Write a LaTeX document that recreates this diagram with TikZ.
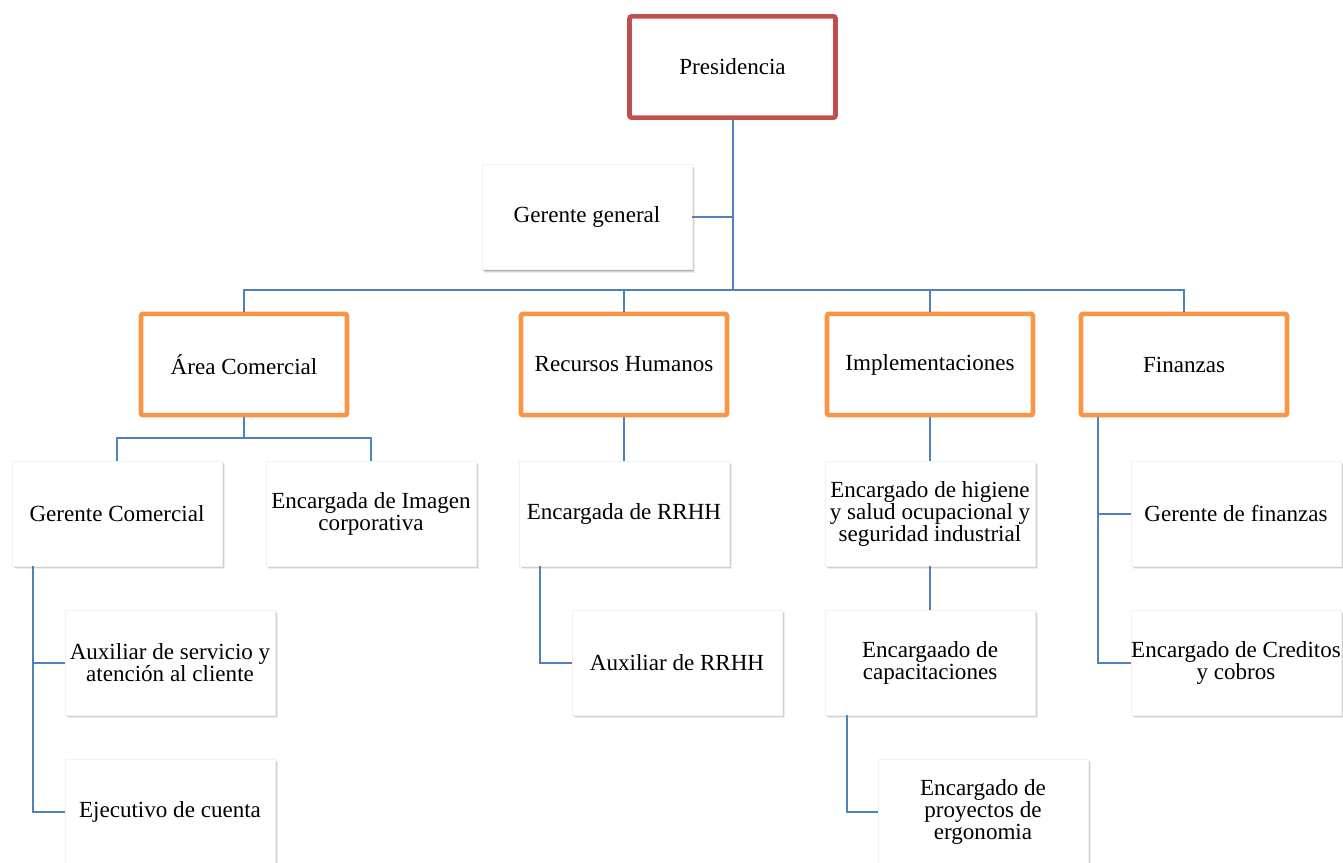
\documentclass[tikz,border=0pt]{standalone}
\usepackage{fontspec}
\setmainfont{Liberation Serif}
\usepackage{tikz}
\usetikzlibrary{calc,shadows}
\definecolor{presred}{HTML}{C0504D}
\definecolor{deptorange}{HTML}{F79646}
\definecolor{linkblue}{HTML}{4F81BD}
\begin{document}
\begin{tikzpicture}[
  x=0.75pt,
  y=-0.75pt,
  every node/.style={font=\fontsize{17.3}{16.5}\selectfont, align=center, text=black},
  chief/.style={draw=presred, line width=3.4pt, rounded corners=1.5pt, fill=white,
    minimum width=154.5pt, minimum height=76pt, inner sep=0pt},
  dept/.style={draw=deptorange, line width=3.4pt, rounded corners=1.5pt, fill=white,
    minimum width=154.5pt, minimum height=76pt, inner sep=0pt},
  post/.style={fill=white, draw=black!5, line width=0.4pt, minimum width=157.5pt,
    minimum height=78.75pt, inner sep=0pt,
    drop shadow={shadow xshift=2pt, shadow yshift=-2.5pt, fill=black, opacity=.07},
    drop shadow={shadow xshift=1.2pt, shadow yshift=-1.6pt, fill=black, opacity=.12},
    drop shadow={shadow xshift=0.5pt, shadow yshift=-0.8pt, fill=black, opacity=.15}},
  link/.style={draw=linkblue, line width=1.5pt}
]
\useasboundingbox (0,0) rectangle (1343,863);

% top
\node[chief] (pres) at (732.5,67) {Presidencia};
\node[post] (gg) at (587,217) {Gerente general};

% areas
\node[dept] (area) at (244,364.5) {Área Comercial};
\node[dept] (rh) at (624,364.5) {Recursos Humanos};
\node[dept] (impl) at (930,364.5) {Implementaciones};
\node[dept] (fin) at (1184,364.5) {Finanzas};

% area comercial
\node[post] (gc) at (117,513.5) {Gerente Comercial};
\node[post] (eic) at (371,513.5) {Encargada de Imagen\\corporativa};
\node[post] (aux) at (170,662.5) {Auxiliar de servicio y\\atención al cliente};
\node[post] (ejec) at (170,811.5) {Ejecutivo de cuenta};

% recursos humanos
\node[post] (erh) at (624,513.5) {Encargada de RRHH};
\node[post] (arh) at (677,662.5) {Auxiliar de RRHH};

% implementaciones
\node[post] (ehs) at (930,513.5) {Encargado de higiene\\y salud ocupacional y\\seguridad industrial};
\node[post] (ecap) at (930,662.5) {Encargaado de\\capacitaciones};
\node[post] (epe) at (983,811.5) {Encargado de\\proyectos de\\ergonomia};

% finanzas
\node[post] (gf) at (1236,513.5) {Gerente de finanzas};
\node[post] (ecc) at (1236,662.5) {Encargado de Creditos\\y cobros};

% connectors
\coordinate (hub) at (732.5,290);
\coordinate (achub) at (244,438);
\draw[link] (pres.south) -- (hub);
\draw[link] (gg.east) -- (gg.east -| hub);
\draw[link] (area.north) |- (hub) -| (fin.north);
\draw[link] (rh.north) -- (rh.north |- hub);
\draw[link] (impl.north) -- (impl.north |- hub);

\draw[link] (area.south) -- (achub);
\draw[link] (gc.north) |- (achub) -| (eic.north);
\draw[link] ($(gc.south west)+(21,0)$) |- (aux.west);
\draw[link] ($(gc.south west)+(21,0)$) |- (ejec.west);

\draw[link] (rh.south) -- (erh.north);
\draw[link] ($(erh.south west)+(21,0)$) |- (arh.west);

\draw[link] (impl.south) -- (ehs.north);
\draw[link] (ehs.south) -- (ecap.north);
\draw[link] ($(ecap.south west)+(22,0)$) |- (epe.west);

\draw[link] ($(fin.south west)+(19,0)$) |- (gf.west);
\draw[link] ($(fin.south west)+(19,0)$) |- (ecc.west);
\end{tikzpicture}
\end{document}
